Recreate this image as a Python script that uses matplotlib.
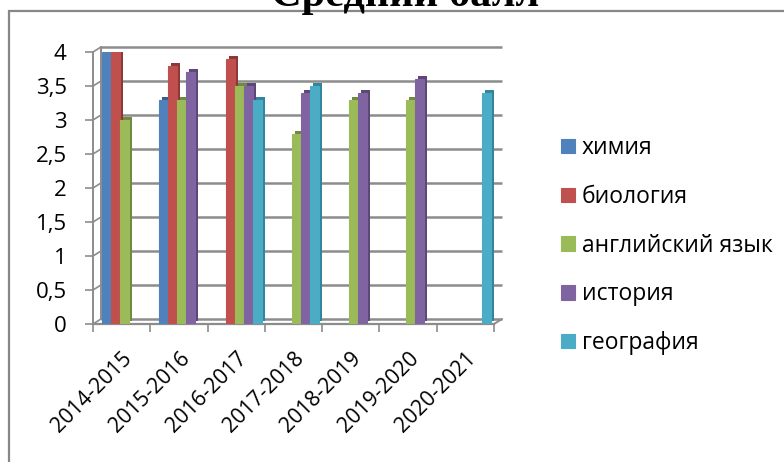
import matplotlib
matplotlib.use("Agg")
import matplotlib.pyplot as plt
import numpy as np
from matplotlib.transforms import ScaledTranslation
from matplotlib.patches import Rectangle
from matplotlib.ticker import FuncFormatter, FixedLocator

plt.rcParams['font.family'] = ['Open Sans', 'DejaVu Sans']

years = ["2014-2015", "2015-2016", "2016-2017", "2017-2018",
         "2018-2019", "2019-2020", "2020-2021"]
subjects = ["химия", "биология", "английский язык", "история", "география"]
nan = np.nan
chem = [4.0, 3.3, 0.0, 0.0, nan, nan, nan]
bio = [4.0, 3.8, 3.9, 0.0, nan, nan, nan]
eng = [3.0, 3.3, 3.5, 2.8, 3.3, 3.3, nan]
hist = [nan, 3.7, 3.5, 3.4, 3.4, 3.6, nan]
geo = [nan, nan, 3.3, 3.5, nan, nan, 3.4]
series = [chem, bio, eng, hist, geo]
yticks = [0, 0.5, 1, 1.5, 2, 2.5, 3, 3.5, 4]
title = "Средний балл"

colors = ["#4F81BD", "#C0504D", "#9BBB59", "#8064A2", "#4BACC6"]
dark = ["#385D8A", "#8C3836", "#71893F", "#5C4776", "#31859C"]

W, H, DPI = 784, 462, 100
fig = plt.figure(figsize=(W / DPI, H / DPI), dpi=DPI)

# outer chart frame
fig.patches.append(Rectangle((9 / W, -0.1), 1.2, 1 - 11 / H + 0.1,
                             transform=fig.transFigure, fill=False,
                             edgecolor="#878787", linewidth=1.6, zorder=0))
fig.text(405 / W, 1 - 6 / H, title, ha="center", va="baseline",
         fontsize=30.5, fontweight="bold", family="Liberation Serif", color="black")

ax = fig.add_axes([93 / W, 138 / H, 401 / W, 272 / H])
ax.set_xlim(-0.5, len(years) - 0.5)
ax.set_ylim(0, 4)
ax.patch.set_alpha(0)
for s in ax.spines.values():
    s.set_visible(False)

gray = "#8C8C8C"
back = ax.transData + ScaledTranslation(8 / DPI, 5 / DPI, fig.dpi_scale_trans)
x0, x1 = -0.5, len(years) - 0.5
# back wall gridlines
for v in yticks:
    ax.plot([x0, x1], [v, v], color=gray, lw=1.8, transform=back,
            clip_on=False, zorder=1, solid_capstyle="butt")
# back left wall and front left edge
ax.plot([x0, x0], [0, 4], color=gray, lw=1.4, transform=back, clip_on=False, zorder=1)
ax.plot([x0, x0], [0, 4], color=gray, lw=1.4, clip_on=False, zorder=1)
# floor front edge
ax.plot([x0, x1], [0, 0], color=gray, lw=1.6, clip_on=False, zorder=1)
# small diagonals connecting front ticks to back wall
for v in yticks:
    ax.annotate("", xy=(x0, v), xycoords=back, xytext=(x0, v), textcoords="data",
                arrowprops=dict(arrowstyle="-", color=gray, lw=1.2,
                                shrinkA=0, shrinkB=0), zorder=1)
ax.annotate("", xy=(x1, 0), xycoords=back, xytext=(x1, 0), textcoords="data",
            arrowprops=dict(arrowstyle="-", color=gray, lw=1.4,
                            shrinkA=0, shrinkB=0), zorder=1)

# bars
bw = 9 / 57.3
x = np.arange(len(years))
side = ax.transData + ScaledTranslation(3 / DPI, 3 / DPI, fig.dpi_scale_trans)
handles = []
for k, (vals, c, d) in enumerate(zip(series, colors, dark)):
    pos = x - 0.5 + bw * (k + 1.5)
    ax.bar(pos, vals, width=bw, color=d, transform=side, zorder=2)
    b = ax.bar(pos, vals, width=bw, color=c, edgecolor=c, linewidth=0.8,
               zorder=3, label=subjects[k])
    handles.append(b)

# ticks
ax.yaxis.set_major_locator(FixedLocator(yticks))
ax.yaxis.set_major_formatter(FuncFormatter(lambda v, p: ("%g" % v).replace(".", ",")))
ax.tick_params(axis="y", length=6, width=1.2, color=gray, labelsize=16, pad=13)
ax.set_xticks(x)
ax.set_xticklabels(years, rotation=45, ha="right", va="top",
                   rotation_mode="anchor", fontsize=15.3)
ax.set_xticks(np.arange(len(years) + 1) - 0.5, minor=True)
ax.tick_params(axis="x", which="major", length=0, pad=17)
ax.tick_params(axis="x", which="minor", length=6, width=1.2, color=gray)

leg = fig.legend(handles=handles, labels=subjects, loc="upper left",
                 bbox_to_anchor=(552 / W, 1 - 127 / H), frameon=False,
                 fontsize=16.5, handlelength=0.6, handleheight=0.6,
                 handletextpad=0.3, labelspacing=1.08, borderaxespad=0)

fig.savefig("out.png", dpi=DPI)
